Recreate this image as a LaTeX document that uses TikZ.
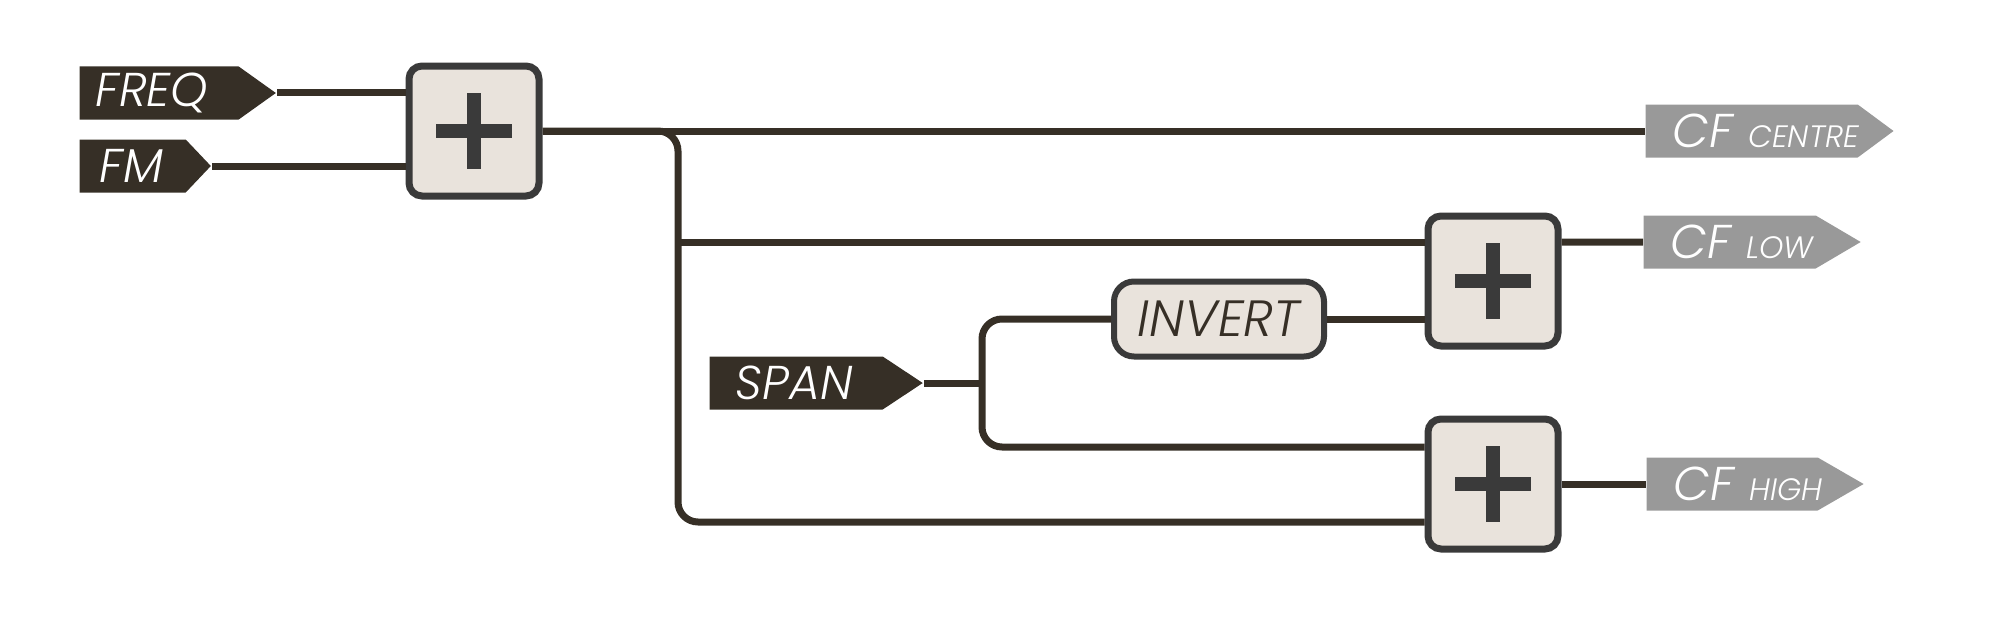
\documentclass[tikz,border=0pt]{standalone}
\usepackage{fontspec}
\setsansfont{Poppins}[UprightFont=* Light, ItalicFont=* Light Italic]
\usepackage{tikz}
\usetikzlibrary{positioning, calc, shapes.symbols}
\definecolor{wirebrown}{RGB}{54,47,38}
\definecolor{boxline}{RGB}{58,58,58}
\definecolor{boxfill}{RGB}{233,227,220}
\definecolor{outgray}{RGB}{153,153,153}
\newcommand{\subcap}[1]{{\fontsize{8.8}{10}\selectfont #1}}

\begin{document}
\begin{tikzpicture}[
  wire/.style={draw=wirebrown, line width=0.7mm},
  tag/.style={signal, signal to=east, minimum height=5.3mm, inner ysep=0pt,
    align=left, anchor=west, text=white,
    font=\sffamily\itshape\fontsize{13.5}{15}\selectfont},
  intag/.style={tag, fill=wirebrown},
  outtag/.style={tag, fill=outgray},
  addbox/.style={draw=boxline, fill=boxfill, line width=0.7mm, rounded corners=1.3mm,
    minimum size=13mm, inner sep=0pt,
    path picture={
      \fill[boxline, sharp corners] ($(path picture bounding box.center)+(-3.8mm,-0.7mm)$) rectangle ++(7.6mm,1.4mm);
      \fill[boxline, sharp corners] ($(path picture bounding box.center)+(-0.7mm,-3.8mm)$) rectangle ++(1.4mm,7.6mm);}},
  invbox/.style={draw=boxline, fill=boxfill, line width=0.6mm, rounded corners=2mm,
    minimum width=21mm, minimum height=7.5mm, text=wirebrown,
    font=\sffamily\itshape\fontsize{14.5}{16}\selectfont}
]
  \useasboundingbox (0,0) rectangle (20,6.2);

  % adders
  \node[addbox] (add1) at (4.74,4.89) {};
  \node[addbox] (add2) at (14.93,3.39) {};
  \node[addbox] (add3) at (14.93,1.36) {};
  \node[invbox] (invert) at (12.19,3.01) {INVERT};

  % inputs
  \node[intag, signal pointer angle=71, text width=12.7mm, inner xsep=1.6mm] (freq) at (0.79,5.27) {FREQ};
  \node[intag, signal pointer angle=93, text width=6.6mm, inner xsep=2mm] (fm) at (0.79,4.54) {FM};
  \node[intag, signal pointer angle=67, text width=12.1mm, inner xsep=2.6mm] (span) at (7.09,2.37) {SPAN};

  % outputs
  \node[outtag, signal pointer angle=73, text width=15.8mm, inner xsep=2.7mm] (centre) at (16.45,4.89) {\mbox{CF \subcap{CENTRE}}};
  \node[outtag, signal pointer angle=61, text width=11.8mm, inner xsep=2.7mm] (low) at (16.43,3.78) {\mbox{CF \subcap{LOW}}};
  \node[outtag, signal pointer angle=60, text width=11.7mm, inner xsep=2.7mm] (high) at (16.46,1.36) {\mbox{CF \subcap{HIGH}}};

  \coordinate (add2 hi) at ([yshift=3.9mm]add2.west);
  \coordinate (add2 lo) at ([yshift=-3.8mm]add2.west);
  \coordinate (add3 hi) at ([yshift=3.7mm]add3.west);
  \coordinate (add3 lo) at ([yshift=-3.8mm]add3.west);
  \coordinate (split) at (6.78,0);
  \coordinate (fork) at (9.82,0);

  \draw[wire] (freq.east) -- (freq.east -| add1.west);
  \draw[wire] (fm.east) -- (fm.east -| add1.west);
  \draw[wire] (add1.east) -- (centre.west);
  \draw[wire, rounded corners=2mm] (add1.east) -| (split |- add3 lo) -- (add3 lo);
  \draw[wire] (split |- add2 hi) -- (add2 hi);

  \draw[wire] (span.east) -- (span.east -| fork);
  \draw[wire, rounded corners=2mm] (invert.west) -| (fork |- add3 hi) -- (add3 hi);
  \draw[wire] (invert.east) -- (invert.east -| add2.west);

  \draw[wire] (add2 hi -| add2.east) -- (low.west);
  \draw[wire] (add3.east) -- (high.west);
\end{tikzpicture}
\end{document}
